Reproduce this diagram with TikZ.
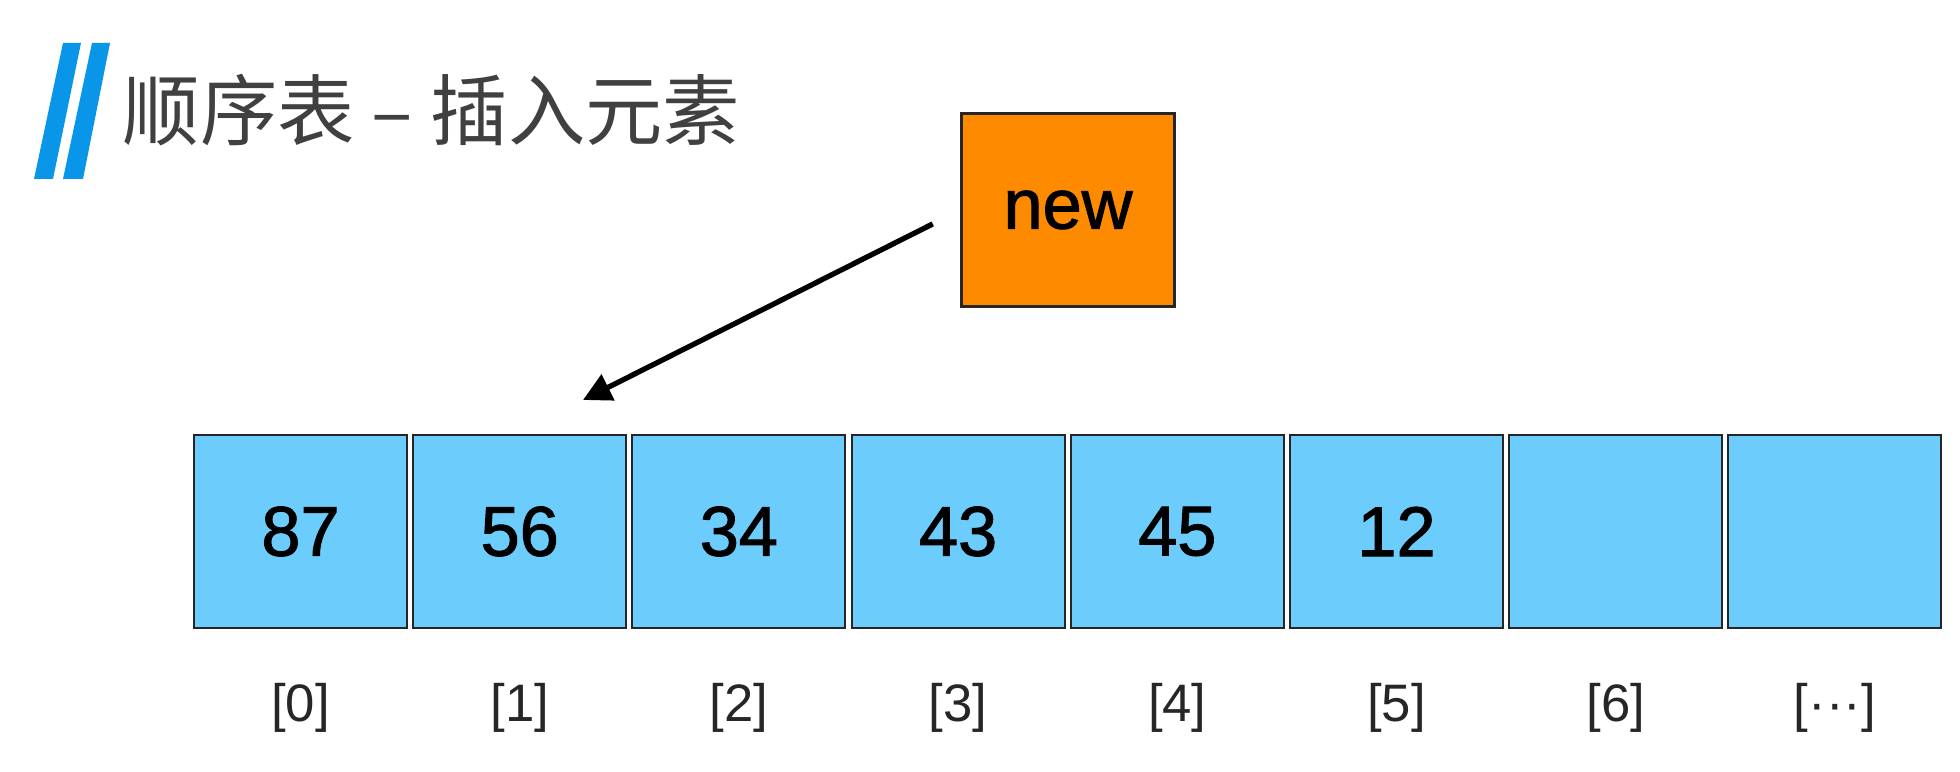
\documentclass[tikz,border=0pt]{standalone}
\usepackage{fontspec}
\setmainfont{Liberation Sans}
\newfontfamily\cjk{Noto Sans CJK SC}
\newfontfamily\cellfont[FakeBold=1.5]{Liberation Sans}
\usetikzlibrary{arrows.meta}

\definecolor{cellblue}{RGB}{108,205,252}
\definecolor{neworange}{RGB}{254,138,0}
\definecolor{titleblue}{RGB}{10,150,232}
\definecolor{titlegray}{RGB}{64,64,64}

\begin{document}
\begin{tikzpicture}[
    cell/.style={draw=black!85, line width=0.6pt, fill=cellblue, minimum width=2.13cm,
      minimum height=1.93cm, inner sep=0pt, font=\cellfont\fontsize{20}{24}\selectfont},
    idx/.style={font=\fontsize{15}{18}\selectfont, text=black!85, inner sep=0pt},
  ]
    \useasboundingbox (0,0) rectangle (19.6,7.72);

    % title with two slanted bars
    \fill[titleblue] (0.63,7.29) -- (0.81,7.29) -- (0.53,5.93) -- (0.34,5.93) -- cycle;
    \fill[titleblue] (0.92,7.29) -- (1.10,7.29) -- (0.83,5.93) -- (0.63,5.93) -- cycle;
    \node[anchor=west, inner sep=0pt, text=titlegray, font=\cjk\fontsize{22}{26}\selectfont] (title) at (1.22,6.62) {顺序表 – 插入元素};

    % the array and its indices
    \foreach \v/\k [count=\i from 0] in {87/0,56/1,34/2,43/3,45/4,12/5,{}/6,{}/\textperiodcentered\textperiodcentered\textperiodcentered} {
      \node[cell] (c\i) at ({3.005+2.192*\i},2.405) {\v};
      \node[idx] (l\i) at ([yshift=-0.79cm]c\i.south) {[\k]};
    }

    % element to insert
    \node[cell, fill=neworange] (new) at (10.68,5.62) {new};
    \coordinate (slot) at (5.83,3.72);
    \draw[-{Triangle[length=8pt,width=8pt]}, line width=1.5pt, shorten <=0.31cm] (new.west) -- (slot);
\end{tikzpicture}
\end{document}
